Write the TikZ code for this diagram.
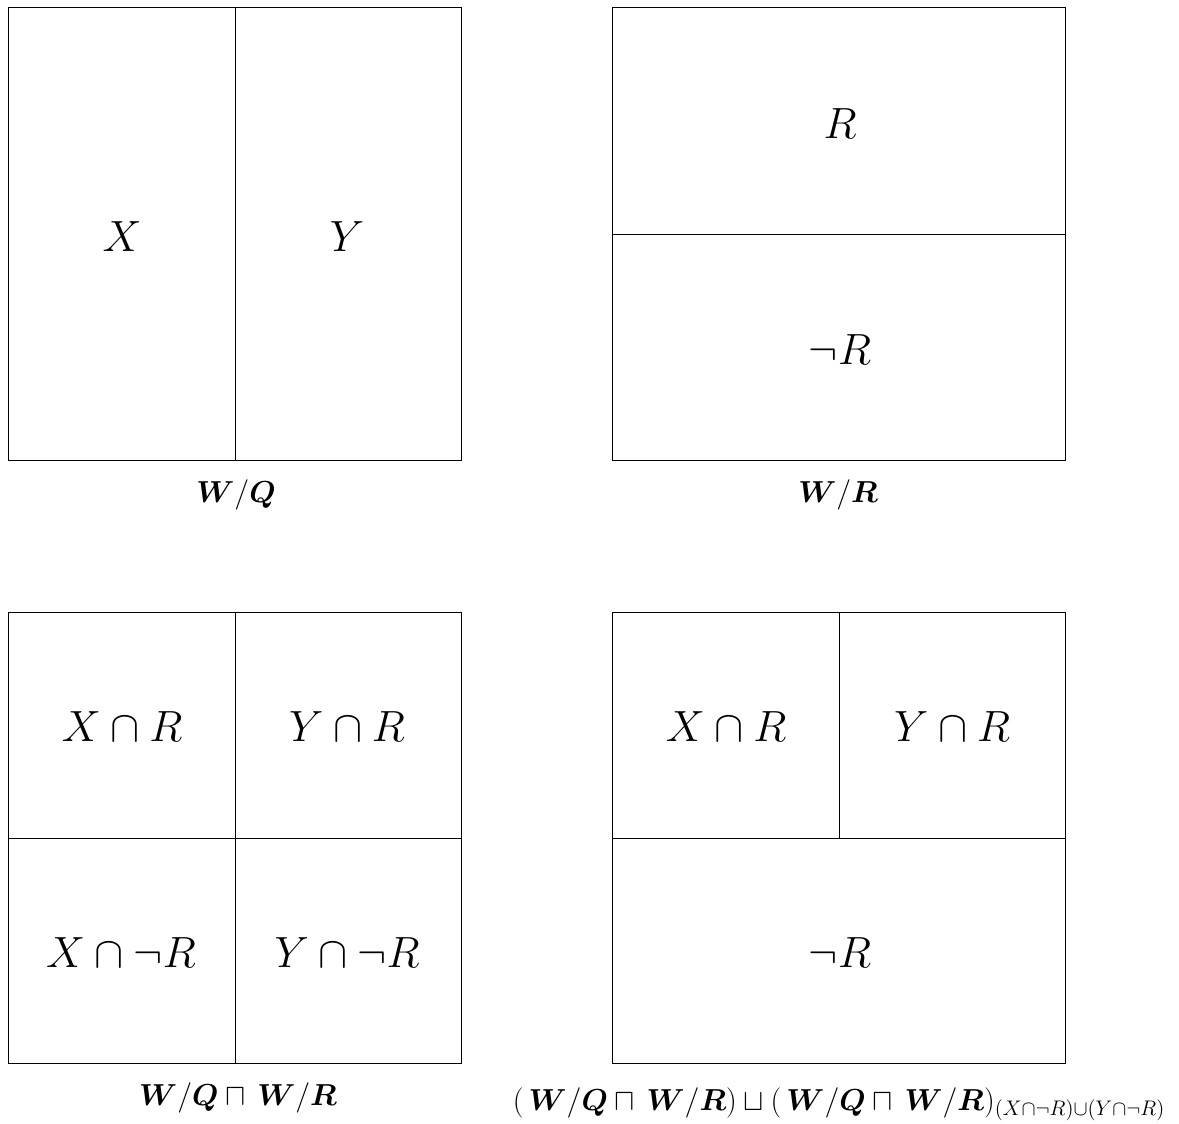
\documentclass[tikz,border=0pt]{standalone}
\usepackage{amsmath,amssymb,bm}
\begin{document}
\begin{tikzpicture}[x={(0.02cm,0)},y={(0,-0.02cm)},
  box/.style={draw,line width=0.45pt},
  cell/.style={font=\fontsize{27}{32}\selectfont},
  caption/.style={font=\fontsize{17.3}{21}\selectfont}]
\useasboundingbox (0,0) rectangle (1179,1123);
% top-left
\draw[box] (8,7) rectangle (461,460);
\draw[box] (235,7) -- (235,460);
\node[cell] (x1) at (122,237) {$X$};
\node[cell] (y1) at (347,237) {$Y$};
\node[caption] (c1) at (236,495) {$\bm{W}/\bm{Q}$};
% top-right
\draw[box] (612,7) rectangle (1065,460);
\draw[box] (612,234) -- (1065,234);
\node[cell] (r2) at (840,124) {$R$};
\node[cell] (nr2) at (840,350) {$\neg R$};
\node[caption] (c2) at (838,495) {$\bm{W}/\bm{R}$};
% bottom-left
\draw[box] (8,612) rectangle (461,1063);
\draw[box] (235,612) -- (235,1063);
\draw[box] (8,838) -- (461,838);
\node[cell] (xr3) at (122,727) {$X\cap R$};
\node[cell] (yr3) at (347,727) {$Y\cap R$};
\node[cell] (xnr3) at (121,953) {$X\cap\neg R$};
\node[cell] (ynr3) at (347,953) {$Y\cap\neg R$};
\node[caption] (c3) at (238,1098) {$\bm{W}/\bm{Q}\sqcap\,\bm{W}/\bm{R}$};
% bottom-right
\draw[box] (612,612) rectangle (1065,1063);
\draw[box] (839,612) -- (839,838);
\draw[box] (612,838) -- (1065,838);
\node[cell] (xr4) at (726,727) {$X\cap R$};
\node[cell] (yr4) at (952,727) {$Y\cap R$};
\node[cell] (nr4) at (840,953) {$\neg R$};
\node[caption,anchor=base] (c4) at (839,1110) {$(\,\bm{W}/\bm{Q}\sqcap\,\bm{W}/\bm{R})\sqcup(\,\bm{W}/\bm{Q}\sqcap\,\bm{W}/\bm{R})_{(X\cap\neg R)\cup(Y\cap\neg R)}$};
\end{tikzpicture}
\end{document}
